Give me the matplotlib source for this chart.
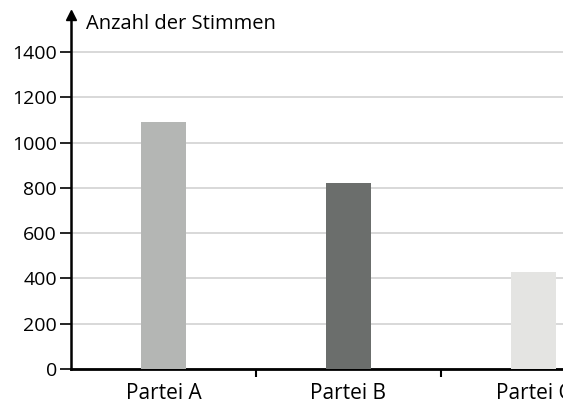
import matplotlib
matplotlib.use('Agg')
import matplotlib.pyplot as plt

# data
parteien = ['Partei A', 'Partei B', 'Partei C']
stimmen = [1090, 820, 430]
farben = ['#b4b6b4', '#6b6e6c', '#e4e4e2']
y_ticks = [0, 200, 400, 600, 800, 1000, 1200, 1400]

plt.rcParams['font.family'] = ['Open Sans', 'DejaVu Sans']

W, H = 563, 403
fig = plt.figure(figsize=(W / 100, H / 100), dpi=100)
# the scan cuts the chart on the right, so the axes run past the figure edge
ax = fig.add_axes([71 / W, 34 / H, 555 / W, 354 / H])

x = range(len(parteien))
ax.bar(x, stimmen, width=0.24, color=farben, zorder=3)

ax.set_xlim(-0.5, 2.5)
ax.set_ylim(0, 1563)
ax.set_yticks(y_ticks)
ax.set_yticklabels([str(v) for v in y_ticks], fontsize=14)
ax.yaxis.grid(True, color='#d6d6d6', lw=1.3, zorder=0)

# category labels between boundary ticks
ax.set_xticks([0.5, 1.5], labels=['', ''])
ax.set_xticks(list(x), labels=parteien, minor=True)
ax.tick_params(axis='x', which='major', length=6, width=1.5, color='black')
ax.tick_params(axis='x', which='minor', length=0, labelsize=15, pad=10)
ax.tick_params(axis='y', length=8, width=1.2, pad=2)

for s in ['top', 'right']:
    ax.spines[s].set_visible(False)
ax.spines['left'].set_linewidth(1.8)
ax.spines['bottom'].set_linewidth(2.0)

# arrow head on the y axis
ax.plot(0, 1, marker='^', color='black', markersize=7, transform=ax.transAxes,
        clip_on=False, zorder=5)

fig.text(86 / W, 1 - 24 / H, 'Anzahl der Stimmen', fontsize=14.5, va='center', ha='left')

plt.savefig('out.png', dpi=100, facecolor='white')
